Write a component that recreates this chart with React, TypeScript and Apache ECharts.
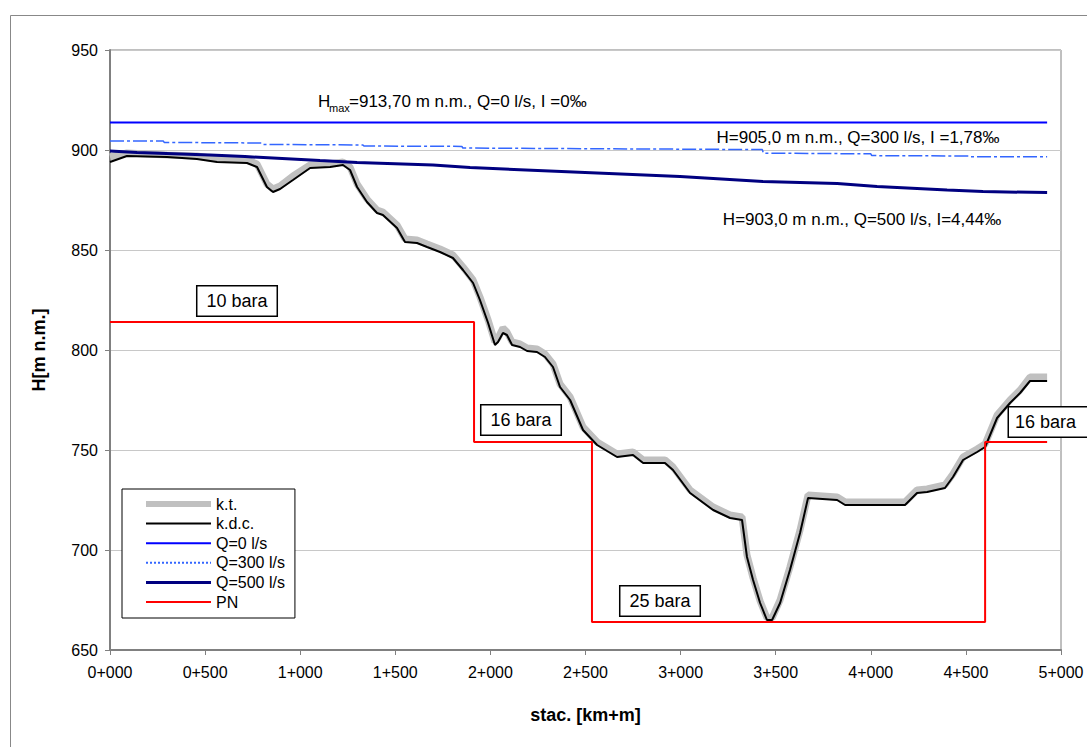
import React, { useEffect, useRef } from "react";
import * as echarts from "echarts";

const FONT = "'Liberation Sans', Arial, sans-serif";

// stations [m]
const stations = [
  0, 89, 300, 457, 563, 720, 773, 825, 857, 894, 962, 1052, 1157, 1225, 1262, 1299, 1351, 1404, 1435,
  1509, 1551, 1614, 1667, 1735, 1803, 1856, 1909, 1945, 1988, 2024, 2040, 2066, 2087, 2114, 2156, 2193,
  2245, 2287, 2329, 2366, 2419, 2487, 2561, 2666, 2750, 2803, 2918, 2960, 3050, 3171, 3260, 3323, 3349,
  3381, 3418, 3454, 3481, 3523, 3575, 3628, 3670, 3823, 3865, 4180, 4243, 4296, 4390, 4432, 4485, 4559,
  4601, 4664, 4732, 4785, 4837, 4927,
];

// k.d.c. (black)
const kdc = [
  894, 897, 896.5, 895.5, 894, 893.5, 891.5, 881.5, 879, 880.5, 885, 891, 891.5, 892.5, 890, 881.5, 874,
  868.5, 867.5, 861, 854, 853.5, 851.5, 849, 846, 840, 833.5, 825, 813.5, 802.5, 804, 808.5, 807.5, 802.5,
  801.5, 799.5, 799, 796.5, 791.5, 781.5, 775, 760, 752.5, 746.5, 747.5, 743.5, 743.5, 740, 728.5, 720,
  716, 715, 696.5, 685, 673.5, 665, 665, 673.5, 690, 708.5, 726, 725, 722.5, 722.5, 728.5, 729, 731,
  736.5, 745, 749, 751.5, 766, 773.5, 778.5, 784.5, 784.5,
];

// k.t. (grey terrain)
const kt = [
  896.5, 898.5, 897.5, 897, 895.5, 895, 893, 883, 880.5, 882, 887, 892.5, 893, 894, 891.5, 883, 875.5,
  870, 869, 862.5, 855.5, 855, 853, 850.5, 847.5, 841.5, 835, 826.5, 815, 804, 806, 811, 809, 804, 803,
  801, 800.5, 798, 793, 783, 776.5, 761.5, 754, 748, 749, 745, 745, 741.5, 730, 721.5, 717.5, 716.5,
  697.5, 686, 674.5, 666, 666, 675, 691.5, 710, 727.5, 726.5, 724, 724, 730, 730.5, 732.5, 738, 746.5,
  750.5, 753, 767.5, 775, 780, 786.5, 786.5,
];

const q0Stations = [0, 4927];
const q0Values = [913.7, 913.7];

const q300Stations = [0, 280, 285, 800, 805, 1330, 1335, 1850, 1855, 3430, 3435, 4000, 4005, 4520, 4525, 4927];
const q300Values = [904.5, 904.5, 903.8, 903.5, 902.8, 902.5, 902, 901.8, 901, 900.2, 898.4, 898.1, 897.2, 897, 896.6, 896.6];

const q500Stations = [0, 142, 526, 710, 1104, 1299, 1698, 1893, 2997, 3433, 3823, 4033, 4401, 4590, 4927];
const q500Values = [899.5, 898.8, 897.5, 896.7, 894.7, 893.8, 892.5, 891.2, 886.7, 884.2, 883.3, 881.7, 880, 879.2, 878.7];

const pnStations = [0, 1914, 1914, 2534, 2534, 4601, 4601, 4927];
const pnValues = [814, 814, 754, 754, 664, 664, 754, 754];

const seriesNames = ["k.t.", "k.d.c.", "Q=0 l/s", "Q=300 l/s", "Q=500 l/s", "PN"];
const yTicks = { min: 650, max: 950, interval: 50 };
const xTicks = { min: 0, max: 5000, interval: 500 };

const zip = (xs: number[], ys: number[]) => xs.map((x, i) => [x, ys[i]]);

const fmtStation = (v: number) => {
  const km = Math.floor(v / 1000);
  const m = Math.round(v % 1000);
  return `${km}+${String(m).padStart(3, "0")}`;
};

const legendLine: Record<string, any> = {
  "k.t.": { color: "#c0c0c0", width: 6 },
  "k.d.c.": { color: "#000", width: 2 },
  "Q=0 l/s": { color: "#0000ff", width: 2 },
  "Q=300 l/s": { color: "#3366ff", width: 2, type: "dotted" },
  "Q=500 l/s": { color: "#000080", width: 3 },
  PN: { color: "#ff0000", width: 2 },
};

export default function App() {
  const ref = useRef<HTMLDivElement>(null);
  useEffect(() => {
    if (!ref.current) return;
    const chart = echarts.init(ref.current, undefined, { renderer: "svg" });
    const boxStyle = {
      font: `18px ${FONT}`,
      fill: "#000",
      backgroundColor: "#fff",
      borderColor: "#000",
      borderWidth: 1.5,
      padding: [6, 9, 5, 9],
      align: "center",
      verticalAlign: "middle",
    };
    chart.setOption({
      animation: false,
      backgroundColor: "#fff",
      grid: {
        left: 110,
        top: 50,
        right: 26,
        bottom: 97,
        show: true,
        borderColor: "#808080",
        borderWidth: 1,
        containLabel: false,
      },
      legend: {
        orient: "vertical",
        left: 122,
        top: 489,
        itemWidth: 65,
        itemHeight: 14,
        itemGap: 3.6,
        padding: [7, 10, 8, 21],
        borderColor: "#000",
        borderWidth: 1,
        backgroundColor: "#fff",
        itemStyle: { opacity: 0 },
        textStyle: { fontFamily: FONT, fontSize: 16, color: "#000" },
        data: seriesNames.map((n) => ({ name: n, lineStyle: legendLine[n] })),
      },
      xAxis: {
        type: "value",
        min: xTicks.min,
        max: xTicks.max,
        interval: xTicks.interval,
        name: "stac. [km+m]",
        nameLocation: "middle",
        nameGap: 56,
        nameTextStyle: { fontFamily: FONT, fontSize: 18, fontWeight: "bold", color: "#000" },
        axisLine: { show: true, lineStyle: { color: "#808080", width: 2 } },
        axisTick: { show: true, length: 5, lineStyle: { color: "#808080" } },
        axisLabel: { fontFamily: FONT, fontSize: 16, color: "#000", margin: 14, formatter: fmtStation },
        splitLine: { show: false },
      },
      yAxis: {
        type: "value",
        min: yTicks.min,
        max: yTicks.max,
        interval: yTicks.interval,
        name: "H[m n.m.]",
        nameLocation: "middle",
        nameGap: 62,
        nameRotate: 90,
        nameTextStyle: { fontFamily: FONT, fontSize: 18, fontWeight: "bold", color: "#000" },
        axisLine: { show: true, lineStyle: { color: "#808080", width: 2 } },
        axisTick: { show: true, length: 5, lineStyle: { color: "#808080" } },
        axisLabel: { fontFamily: FONT, fontSize: 16, color: "#000", margin: 12 },
        splitLine: { show: true, lineStyle: { color: "#c8c8c8", width: 1 } },
      },
      series: [
        {
          name: "k.t.",
          type: "line",
          data: zip(stations, kt),
          symbol: "none",
          lineStyle: { color: "#c0c0c0", width: 7 },
          itemStyle: { color: "#c0c0c0" },
          z: 2,
        },
        {
          name: "k.d.c.",
          type: "line",
          data: zip(stations, kdc),
          symbol: "none",
          lineStyle: { color: "#000", width: 2 },
          itemStyle: { color: "#000" },
          z: 3,
        },
        {
          name: "Q=0 l/s",
          type: "line",
          data: zip(q0Stations, q0Values),
          symbol: "none",
          lineStyle: { color: "#0000ff", width: 2 },
          itemStyle: { color: "#0000ff" },
          z: 4,
        },
        {
          name: "Q=300 l/s",
          type: "line",
          data: zip(q300Stations, q300Values),
          symbol: "none",
          lineStyle: { color: "#3366ff", width: 1.5, type: [14, 3, 3, 3] },
          itemStyle: { color: "#3366ff" },
          z: 4,
        },
        {
          name: "Q=500 l/s",
          type: "line",
          data: zip(q500Stations, q500Values),
          symbol: "none",
          lineStyle: { color: "#000080", width: 3 },
          itemStyle: { color: "#000080" },
          z: 4,
        },
        {
          name: "PN",
          type: "line",
          data: zip(pnStations, pnValues),
          symbol: "none",
          lineStyle: { color: "#ff0000", width: 2 },
          itemStyle: { color: "#ff0000" },
          z: 5,
        },
      ],
      graphic: [
        {
          type: "rect",
          silent: true,
          shape: { x: 10.5, y: 15.5, width: 1200, height: 900 },
          style: { fill: "none", stroke: "#888", lineWidth: 1 },
          z: -10,
        },
        {
          type: "text",
          x: 318,
          y: 101,
          style: { text: "H", font: `17px ${FONT}`, fill: "#000", align: "left", verticalAlign: "middle" },
          z: 10,
        },
        {
          type: "text",
          x: 329,
          y: 108,
          style: { text: "max", font: `11px ${FONT}`, fill: "#000", align: "left", verticalAlign: "middle" },
          z: 10,
        },
        {
          type: "text",
          x: 349,
          y: 101,
          style: {
            text: "=913,70 m n.m., Q=0 l/s, I =0‰",
            font: `17px ${FONT}`,
            fill: "#000",
            align: "left",
            verticalAlign: "middle",
          },
          z: 10,
        },
        {
          type: "text",
          x: 858,
          y: 137,
          style: {
            text: "H=905,0 m n.m., Q=300 l/s, I =1,78‰",
            font: `17px ${FONT}`,
            fill: "#000",
            align: "center",
            verticalAlign: "middle",
          },
          z: 10,
        },
        {
          type: "text",
          x: 862,
          y: 219,
          style: {
            text: "H=903,0 m n.m., Q=500 l/s, I=4,44‰",
            font: `17px ${FONT}`,
            fill: "#000",
            align: "center",
            verticalAlign: "middle",
          },
          z: 10,
        },
        { type: "text", x: 237, y: 301, style: { ...boxStyle, text: "10 bara" }, z: 10 },
        { type: "text", x: 521, y: 420, style: { ...boxStyle, text: "16 bara" }, z: 10 },
        { type: "text", x: 660, y: 601, style: { ...boxStyle, text: "25 bara" }, z: 10 },
        {
          type: "text",
          x: 1009,
          y: 422,
          style: { ...boxStyle, align: "left", padding: [6, 14, 5, 6], text: "16 bara" },
          z: 10,
        },
      ],
    });
    return () => chart.dispose();
  }, []);
  return (
    <div
      ref={ref}
      style={{ position: "absolute", left: 0, top: 0, width: 1087, height: 747, background: "#fff" }}
    />
  );
}
